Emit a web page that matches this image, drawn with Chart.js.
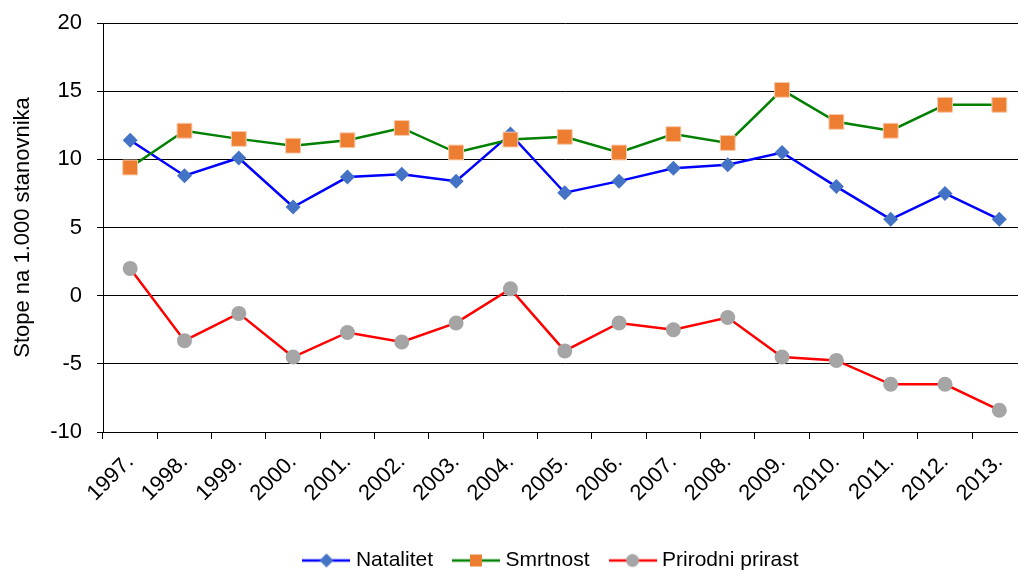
<!DOCTYPE html>
<html>
<head>
<meta charset="utf-8">
<script src="https://cdn.jsdelivr.net/npm/chart.js@4.4.1/dist/chart.umd.min.js"></script>
<style>
	html, body { margin: 0; padding: 0; background: #fff; overflow: hidden; }
	/* plot area runs a little past the right edge of the picture, like the source */
	#wrap { width: 1038px; height: 572px; }
</style>
</head>
<body>
<div id="wrap"><canvas id="chart"></canvas></div>
<script>
const years = ['1997.', '1998.', '1999.', '2000.', '2001.', '2002.', '2003.', '2004.', '2005.',
	'2006.', '2007.', '2008.', '2009.', '2010.', '2011.', '2012.', '2013.'];
const natalitet = [11.4, 8.8, 10.1, 6.5, 8.7, 8.9, 8.4, 11.85, 7.55, 8.4, 9.35, 9.6, 10.5, 8.0, 5.6, 7.5, 5.6];
const smrtnost = [9.4, 12.1, 11.5, 11.0, 11.4, 12.3, 10.5, 11.45, 11.65, 10.5, 11.85, 11.2, 15.1, 12.75, 12.1, 14.0, 14.0];
const prirast = [2.0, -3.3, -1.3, -4.5, -2.7, -3.4, -2.0, 0.5, -4.05, -2.0, -2.5, -1.6, -4.5, -4.75, -6.5, -6.5, -8.4];
const yTicks = [-10, -5, 0, 5, 10, 15, 20];

const tickFont = { family: "'Liberation Sans', Arial, sans-serif", size: 22 };
const legendFont = { family: "'Liberation Sans', Arial, sans-serif", size: 21 };

// small canvas with line + marker for the legend
function legendIcon(lineColor, markColor, shape) {
	const c = document.createElement('canvas');
	c.width = 48;
	c.height = 16;
	const ctx = c.getContext('2d');
	ctx.strokeStyle = lineColor;
	ctx.lineWidth = 2.5;
	ctx.beginPath();
	ctx.moveTo(0, 8);
	ctx.lineTo(48, 8);
	ctx.stroke();
	ctx.fillStyle = markColor;
	ctx.beginPath();
	if (shape === 'diamond') {
		ctx.moveTo(24, 1); ctx.lineTo(31, 8); ctx.lineTo(24, 15); ctx.lineTo(17, 8);
		ctx.closePath();
	} else if (shape === 'square') {
		ctx.rect(18, 2, 12, 12);
	} else {
		ctx.arc(24, 8, 6.5, 0, Math.PI * 2);
	}
	ctx.fill();
	return c;
}

const icons = [
	legendIcon('#0000FF', '#4472C4', 'diamond'),
	legendIcon('#008000', '#ED7D31', 'square'),
	legendIcon('#FF0000', '#A5A5A5', 'circle'),
];

// the legend in the source sits a bit right of centre and low
const legendShift = {
	id: 'legendShift',
	afterLayout(chart) {
		const lg = chart.legend;
		lg.left += 34;
		lg.right += 34;
		lg.top += 9;
		lg.bottom += 9;
	},
};

new Chart(document.getElementById('chart'), {
	type: 'line',
	data: {
		labels: years,
		datasets: [
			{
				label: 'Natalitet',
				data: natalitet,
				borderColor: '#0000FF',
				borderWidth: 2.5,
				pointStyle: 'rectRot',
				pointRadius: 7.5,
				pointBackgroundColor: '#4472C4',
				pointBorderColor: '#4472C4',
				pointBorderWidth: 0,
				order: 2,
			},
			{
				label: 'Smrtnost',
				data: smrtnost,
				borderColor: '#008000',
				borderWidth: 2.5,
				pointStyle: 'rect',
				pointRadius: 10.5,
				pointBackgroundColor: '#ED7D31',
				pointBorderColor: '#F8CBAD',
				pointBorderWidth: 1,
				order: 1,
			},
			{
				label: 'Prirodni prirast',
				data: prirast,
				borderColor: '#FF0000',
				borderWidth: 2.5,
				pointStyle: 'circle',
				pointRadius: 7.5,
				pointBackgroundColor: '#A5A5A5',
				pointBorderColor: '#A5A5A5',
				pointBorderWidth: 0,
				order: 0,
			},
		],
	},
	options: {
		responsive: true,
		maintainAspectRatio: false,
		animation: false,
		devicePixelRatio: 1,
		layout: { padding: { top: 23, right: 0, left: 0, bottom: 0 } },
		plugins: {
			tooltip: { enabled: false },
			legend: {
				position: 'bottom',
				labels: {
					usePointStyle: true,
					pointStyleWidth: 38,
					padding: 24,
					color: '#000',
					font: legendFont,
					generateLabels: (chart) => chart.data.datasets.map((ds, i) => ({
						text: ds.label,
						datasetIndex: i,
						pointStyle: icons[i],
						fillStyle: 'transparent',
						strokeStyle: 'transparent',
						lineWidth: 0,
						fontColor: '#000',
					})),
				},
			},
		},
		scales: {
			x: {
				offset: true,
				grid: {
					offset: true,
					drawOnChartArea: false,
					drawTicks: true,
					tickLength: 7,
					color: '#000',
				},
				border: { display: true, color: '#000', width: 1 },
				ticks: {
					color: '#000',
					font: tickFont,
					maxRotation: 45,
					minRotation: 45,
					autoSkip: false,
					padding: 10,
				},
				afterFit: (s) => {
					s.height = s.chart.height - 432 - s.chart.legend.height;
					s.paddingLeft = 0;
					s.paddingRight = 0;
				},
			},
			y: {
				min: -10,
				max: 20,
				afterBuildTicks: (s) => { s.ticks = yTicks.map((v) => ({ value: v })); },
				grid: {
					color: '#000',
					lineWidth: 1,
					tickLength: 6,
				},
				border: { display: true, color: '#000', width: 1 },
				ticks: { color: '#000', font: tickFont, padding: 15 },
				title: {
					display: true,
					text: 'Stope na 1.000 stanovnika',
					color: '#000',
					font: tickFont,
					padding: { top: 10, bottom: 0 },
				},
				afterFit: (s) => {
					s.width = 103;
					s.paddingTop = 0;
					s.paddingBottom = 0;
				},
			},
		},
	},
	plugins: [legendShift],
});
</script>
</body>
</html>
